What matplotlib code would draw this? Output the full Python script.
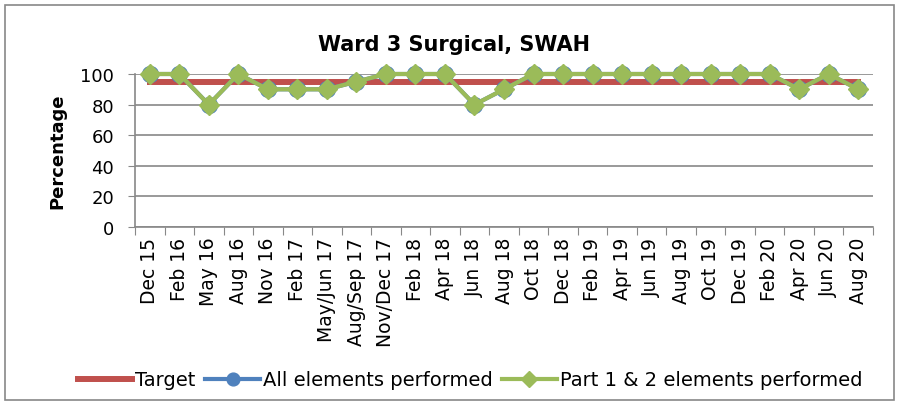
import matplotlib
matplotlib.use("Agg")
import matplotlib.pyplot as plt
from matplotlib.patches import Rectangle
import numpy as np

categories = ["Dec 15", "Feb 16", "May 16", "Aug 16", "Nov 16", "Feb 17", "May/Jun 17",
              "Aug/Sep 17", "Nov/Dec 17", "Feb 18", "Apr 18", "Jun 18", "Aug 18", "Oct 18",
              "Dec 18", "Feb 19", "Apr 19", "Jun 19", "Aug 19", "Oct 19", "Dec 19", "Feb 20",
              "Apr 20", "Jun 20", "Aug 20"]
target = [95] * len(categories)
all_elements = [100, 100, 80, 100, 90, 90, 90, 95, 100, 100, 100, 80, 90, 100,
                100, 100, 100, 100, 100, 100, 100, 100, 90, 100, 90]
part12 = [100, 100, 80, 100, 90, 90, 90, 95, 100, 100, 100, 80, 90, 100,
          100, 100, 100, 100, 100, 100, 100, 100, 90, 100, 90]
y_ticks = [0, 20, 40, 60, 80, 100]

plt.rcParams['font.family'] = ['DejaVu Sans']

fig = plt.figure(figsize=(8.99, 4.06), dpi=100)
fig.patches.append(Rectangle((5/899, 1-401/406), 889/899, 395/406, transform=fig.transFigure,
                             fill=False, edgecolor='#888888', linewidth=1.2))
ax = fig.add_axes([135/899, 1-228/406, 738/899, 153/406])

x = np.arange(len(categories))
ax.plot(x, target, color='#C0504D', linewidth=4.3, label='Target', zorder=3, clip_on=False)
ax.plot(x, all_elements, color='#4F81BD', linewidth=3, marker='o', markersize=11.5,
        markerfacecolor='#4F81BD', markeredgecolor='#4F81BD', label='All elements performed',
        zorder=4, clip_on=False)
ax.plot(x, part12, color='#9BBB59', linewidth=3, marker='D', markersize=10,
        markerfacecolor='#9BBB59', markeredgecolor='#9BBB59', label='Part 1 & 2 elements performed',
        zorder=5, clip_on=False)

ax.set_xlim(-0.5, len(categories) - 0.5)
ax.set_ylim(0, 100)
ax.set_yticks(y_ticks)
ax.set_yticklabels([str(v) for v in y_ticks], fontsize=13)
ax.yaxis.grid(True, color='#888888', linewidth=1.2)
ax.set_axisbelow(True)
ax.tick_params(axis='y', length=5, color='#888888', pad=10, direction='out')

ax.set_xticks(np.arange(-0.5, len(categories), 1))
ax.set_xticklabels([])
ax.tick_params(axis='x', length=6, color='#888888', direction='out')
ax.set_xticks(x, minor=True)
ax.set_xticklabels(categories, minor=True, rotation=90, fontsize=13.5)
ax.tick_params(axis='x', which='minor', length=0, pad=7)

for s in ['top', 'right']:
    ax.spines[s].set_visible(False)
for s in ['left', 'bottom']:
    ax.spines[s].set_color('#888888')
    ax.spines[s].set_linewidth(1.2)

ax.set_ylabel('Percentage', fontsize=13, fontweight='bold', labelpad=10)
fig.text(454/899, 1-45/406, 'Ward 3 Surgical, SWAH', fontsize=15, fontweight='bold',
         ha='center', va='center')

fig.legend(loc='center', bbox_to_anchor=(470/899, 1-381/406), ncol=3, frameon=False,
           fontsize=14, handlelength=2.8, handletextpad=0.15, columnspacing=0.5, markerscale=0.8)

fig.savefig('out.png', dpi=100)
